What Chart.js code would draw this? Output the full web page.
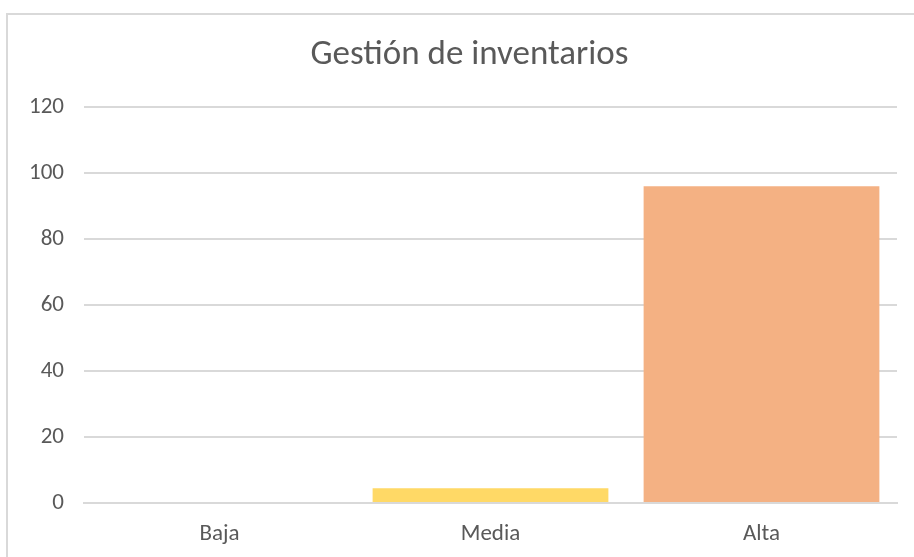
<!DOCTYPE html>
<html>
<head>
<meta charset="utf-8">
<script src="https://cdn.jsdelivr.net/npm/chart.js@4.4.0/dist/chart.umd.min.js"></script>
<style>
  html, body { margin: 0; padding: 0; background: #ffffff; overflow: hidden; }
  #frame {
    position: absolute; left: 6px; top: 13px; width: 1000px; height: 1000px;
    border: 2px solid #D9D9D9; box-sizing: border-box;
  }
  #wrap { position: absolute; left: 0; top: 0; width: 914px; height: 557px; }
</style>
</head>
<body>
<div id="frame"></div>
<div id="wrap"><canvas id="chart" width="914" height="557"></canvas></div>
<script>
// Data
const categories = ['Baja', 'Media', 'Alta'];
const values = [0, 4.5, 96];
const barColors = ['#5B9BD5', '#FFD966', '#F4B183'];
const yTicks = [0, 20, 40, 60, 80, 100, 120];

const fontFamily = "Carlito, 'Open Sans', 'Liberation Sans', sans-serif";
const textColor = '#595959';
const gridColor = '#D9D9D9';

// Nudge the title box so its centre sits where the reference has it
const titleShift = {
    id: 'titleShift',
    afterLayout(chart) {
        if (chart.titleBlock) {
            chart.titleBlock.left += 32;
        }
    }
};

const ctx = document.getElementById('chart').getContext('2d');

new Chart(ctx, {
    type: 'bar',
    data: {
        labels: categories,
        datasets: [{
            label: 'Gestión de inventarios',
            data: values,
            backgroundColor: barColors,
            borderWidth: 0,
            barPercentage: 0.87,
            categoryPercentage: 1.0
        }]
    },
    options: {
        responsive: false,
        animation: false,
        devicePixelRatio: 1,
        layout: {
            padding: { left: 10, right: 17, top: 0, bottom: 10 }
        },
        plugins: {
            legend: { display: false },
            tooltip: { enabled: false },
            title: {
                display: true,
                text: 'Gestión de inventarios',
                color: textColor,
                font: { family: fontFamily, size: 35, weight: 'normal' },
                padding: { top: 34, bottom: 31 }
            }
        },
        scales: {
            x: {
                grid: { display: false },
                border: { display: true, color: gridColor, width: 2 },
                ticks: {
                    color: textColor,
                    font: { family: fontFamily, size: 23 },
                    padding: 9
                },
                afterFit: (scale) => { scale.height = 557 - 503 - 10; }
            },
            y: {
                min: 0,
                max: 120,
                afterBuildTicks: (scale) => {
                    scale.ticks = yTicks.map(v => ({ value: v }));
                },
                grid: { color: gridColor, lineWidth: 2, drawTicks: false },
                border: { display: false },
                ticks: {
                    color: textColor,
                    font: { family: fontFamily, size: 23 },
                    padding: 20
                },
                afterFit: (scale) => { scale.width = 84 - 10; }
            }
        }
    },
    plugins: [titleShift]
});
</script>
</body>
</html>
